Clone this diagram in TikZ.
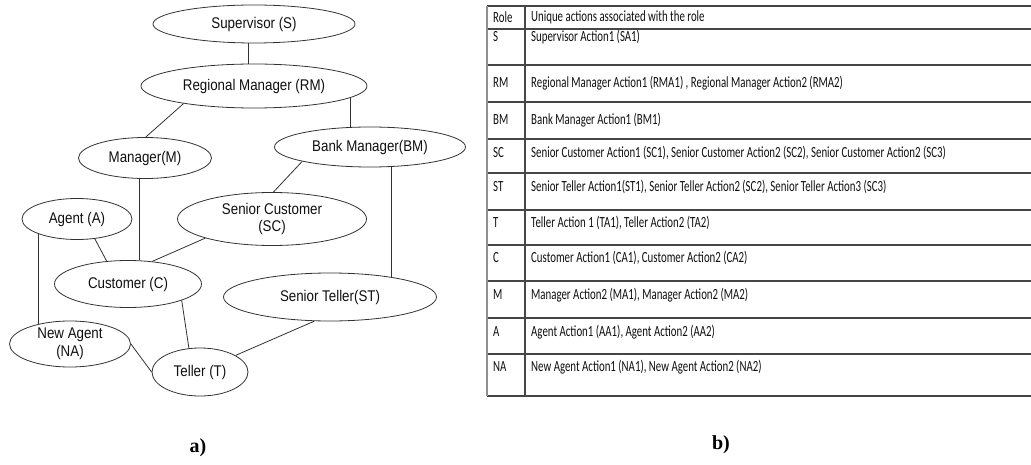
\documentclass[tikz,border=0pt]{standalone}
\usepackage{fontspec}
\setmainfont{Liberation Serif}
\newfontfamily\rolefont[FakeStretch=0.86]{Liberation Sans}
\newfontfamily\tablefont[FakeStretch=0.70]{Carlito}
\usetikzlibrary{shapes.geometric}
\usepackage{xcolor}
\definecolor{edgegray}{RGB}{50, 50, 50}
\definecolor{rulegray}{RGB}{70, 70, 70}
\definecolor{textdark}{RGB}{15, 15, 15}

\begin{document}
\begin{tikzpicture}[
    x=1pt, y=-1pt,
    role/.style={ellipse, draw=edgegray, line width=0.8pt, inner sep=0pt, align=center, font=\fontsize{15.5}{17.5}\rolefont, text=textdark},
    link/.style={draw=edgegray, line width=0.8pt},
    cell/.style={anchor=west, inner sep=0pt, font=\fontsize{15.5}{17}\tablefont, text=textdark},
    rule/.style={draw=rulegray, line width=1.3pt},
    caption/.style={font=\fontsize{20}{22}\selectfont\bfseries},
]
\useasboundingbox (0,0) rectangle (1031,465);

% Role hierarchy
\node[role, minimum width=202pt, minimum height=38pt] (S) at (254,24) {Supervisor (S)};
\node[role, minimum width=226pt, minimum height=44pt] (RM) at (254,86) {Regional Manager (RM)};
\node[role, minimum width=133pt, minimum height=41pt] (M) at (145,158) {Manager(M)};
\node[role, minimum width=191pt, minimum height=40pt] (BM) at (370,147) {Bank Manager(BM)};
\node[role, minimum width=110pt, minimum height=41pt] (A) at (77,219) {Agent (A)};
\node[role, minimum width=189pt, minimum height=53pt] (SC) at (272,219) {Senior Customer\\(SC)};
\node[role, minimum width=147pt, minimum height=47pt] (C) at (128,284) {Customer (C)};
\node[role, minimum width=213pt, minimum height=48pt] (ST) at (330,297) {Senior Teller(ST)};
\node[role, minimum width=121pt, minimum height=46pt] (NA) at (70,344) {New Agent\\(NA)};
\node[role, minimum width=96pt, minimum height=48pt] (T) at (200,372) {Teller (T)};

\draw[link] ([xshift=-6pt]S.south) -- ([xshift=-6pt]RM.north);
\draw[link] (RM.-166) -- (M.88);
\draw[link] (RM.-7) -- (RM.-7 |- BM.north);
\draw[link] (BM.-168) -- (SC.87);
\draw[link] (BM.-43) -- (BM.-43 |- ST.18);
\draw[link] ([xshift=-6pt]M.south) -- ([xshift=-6pt]M.south |- C.north);
\draw[link] (A.-48) -- (C.133);
\draw[link] (SC.-164) -- (C.43);
\draw[link] (A.-159) -- (A.-159 |- NA.148);
\draw[link] (C.-17) -- (T.115);
\draw[link] (NA.east) -- (T.west);
\draw[link] (ST.-123) -- (T.25);

% Role / action table
\foreach \y in {6, 29, 65, 102, 139, 173, 210, 245, 281, 318, 354, 396}
    \draw[rule] (487,\y) -- (1031,\y);
\draw[rule, draw=rulegray!60] (487,6) -- (487,396);
\draw[rule] (525,6) -- (525,396);

\node[cell] (rolehead) at (493,17.5) {Role};
\node[cell] (acthead) at (531,17.5) {Unique actions associated with the role};

\foreach \code/\y/\acts [count=\i] in {
    S/37/{Supervisor Action1 (SA1)},
    RM/83/{Regional Manager Action1 (RMA1) , Regional Manager Action2 (RMA2)},
    BM/120/{Bank Manager Action1 (BM1)},
    SC/153/{Senior Customer Action1 (SC1), Senior Customer Action2 (SC2), Senior Customer Action2 (SC3)},
    ST/187/{Senior Teller Action1(ST1), Senior Teller Action2 (SC2), Senior Teller Action3 (SC3)},
    T/223/{Teller Action 1 (TA1), Teller Action2 (TA2)},
    C/258/{Customer Action1 (CA1), Customer Action2 (CA2)},
    M/295/{Manager Action2 (MA1), Manager Action2 (MA2)},
    A/332/{Agent Action1 (AA1), Agent Action2 (AA2)},
    NA/367/{New Agent Action1 (NA1), New Agent Action2 (NA2)}}
{
    \node[cell] (role\i) at (493,\y) {\code};
    \node[cell] (act\i) at (531,\y) {\acts};
}

% Captions
\node[caption] (capa) at (198,448) {a)};
\node[caption] (capb) at (721,445) {b)};

\end{tikzpicture}
\end{document}
